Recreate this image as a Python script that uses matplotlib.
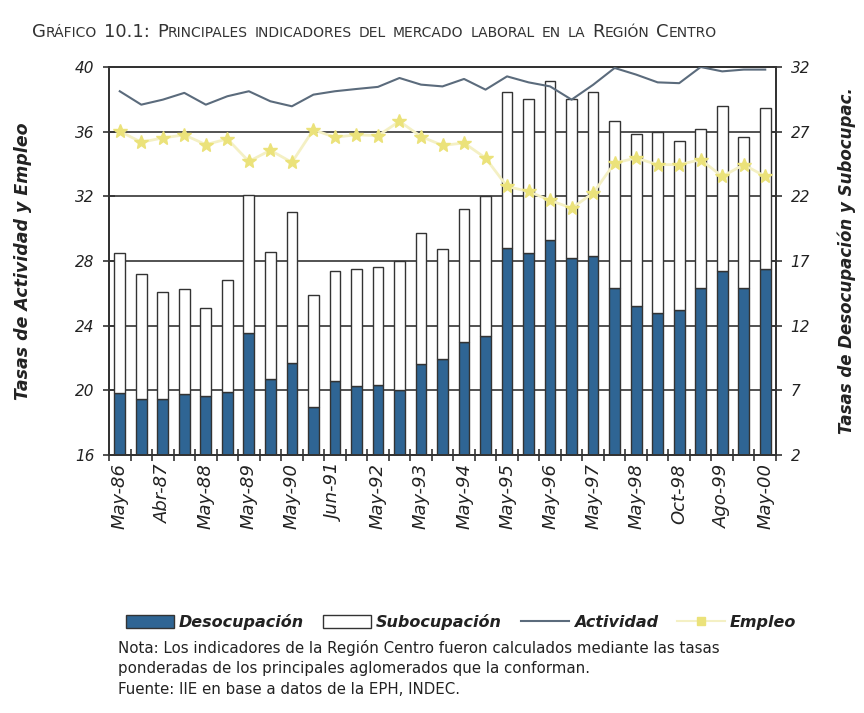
import matplotlib
matplotlib.use("Agg")
import matplotlib.pyplot as plt
import numpy as np
from matplotlib.patches import Patch
from matplotlib.lines import Line2D

# ---------------- data ----------------
periods = ["May-86", "", "Abr-87", "", "May-88", "", "May-89", "", "May-90", "",
           "Jun-91", "", "May-92", "", "May-93", "", "May-94", "", "May-95", "",
           "May-96", "", "May-97", "", "May-98", "", "Oct-98", "", "Ago-99", "",
           "May-00"]

desocupacion = [6.8, 6.3, 6.3, 6.7, 6.6, 6.9, 11.4, 7.9, 9.1, 5.7,
                7.7, 7.3, 7.4, 7.0, 9.0, 9.4, 10.7, 11.2, 18.0, 17.6,
                18.6, 17.2, 17.4, 14.9, 13.5, 13.0, 13.2, 14.9, 16.2, 14.9,
                16.4]

subocupacion = [10.8, 9.7, 8.3, 8.1, 6.8, 8.6, 10.7, 9.8, 11.7, 8.7,
                8.5, 9.1, 9.1, 10.0, 10.2, 8.5, 10.3, 10.8, 12.1, 11.9,
                12.3, 12.3, 12.7, 12.9, 13.3, 14.0, 13.1, 12.3, 12.8, 11.7,
                12.4]

actividad = [38.5, 37.67, 37.98, 38.4, 37.67, 38.19, 38.5, 37.88, 37.57, 38.29,
             38.5, 38.64, 38.77, 39.32, 38.91, 38.8, 39.26, 38.6, 39.42, 39.05,
             38.8, 37.98, 38.9, 39.94, 39.53, 39.05, 39.0, 40.0, 39.73, 39.84,
             39.84]

empleo = [36.02, 35.35, 35.61, 35.8, 35.2, 35.55, 34.16, 34.85, 34.1, 36.12,
          35.65, 35.81, 35.75, 36.64, 35.7, 35.15, 35.3, 34.37, 32.61, 32.3,
          31.75, 31.27, 32.2, 34.06, 34.37, 33.96, 33.96, 34.27, 33.23, 33.96,
          33.23]

left_ticks = [16, 20, 24, 28, 32, 36, 40]
right_ticks = [2, 7, 12, 17, 22, 27, 32]

# ---------------- style ----------------
BLUE = "#2f6594"
EDGE = "#333333"
LINEC = "#5b6b7c"
YEL = "#ebe27a"
YEL_L = "#f4f0c4"
TXT = "#222222"

plt.rcParams['font.family'] = ['DejaVu Sans']

fig = plt.figure(figsize=(8.64, 7.13), dpi=100)
fig.patch.set_facecolor("white")

L, R, T, B = 109, 776, 67, 455
W, H = 864, 713
ax = fig.add_axes([L / W, 1 - B / H, (R - L) / W, (B - T) / H])
ax2 = ax.twinx()

x = np.arange(len(desocupacion))

# bars on right axis
ax2.bar(x, desocupacion, width=0.5, color=BLUE, edgecolor=EDGE, linewidth=1.0, zorder=2)
ax2.bar(x, subocupacion, bottom=desocupacion, width=0.5, color="white",
        edgecolor=EDGE, linewidth=1.0, zorder=2)
ax2.set_ylim(2, 32)
ax2.set_yticks(right_ticks)
ax2.yaxis.grid(True, color="#444444", linewidth=1.3)
ax2.set_axisbelow(True)

# lines on left axis
ax.set_zorder(ax2.get_zorder() + 1)
ax.patch.set_visible(False)
ax.plot(x, empleo, color=YEL_L, linewidth=2.0, zorder=3)
ax.plot(x, empleo, linestyle="none", marker="*", markersize=10, color=YEL,
        markeredgecolor=YEL, zorder=4)
ax.plot(x, actividad, color=LINEC, linewidth=1.5, zorder=5)
ax.set_ylim(16, 40)
ax.set_yticks(left_ticks)
ax.set_xlim(-0.5, len(x) - 0.5)

# x ticks
ax.set_xticks(x[::2])
ax.set_xticklabels([p for p in periods[::2]], rotation=90, fontsize=13,
                   fontstyle="italic", color=TXT)
ax.set_xticks(np.arange(-0.5, len(x), 1.0), minor=True)
ax.tick_params(axis="x", which="major", length=0, pad=6)
ax.tick_params(axis="x", which="minor", length=9, width=1.2, direction="inout", color=EDGE)

ax.tick_params(axis="y", length=9, width=1.2, direction="inout", color=EDGE,
               labelsize=11, pad=6)
ax2.tick_params(axis="y", length=9, width=1.2, direction="inout", color=EDGE,
                labelsize=11, pad=6)
for lab in ax.get_yticklabels() + ax2.get_yticklabels():
    lab.set_fontstyle("italic")
    lab.set_color(TXT)

for a in (ax, ax2):
    for s in a.spines.values():
        s.set_color(EDGE)
        s.set_linewidth(1.3)

ax.set_ylabel("Tasas de Actividad y Empleo", fontsize=12.5, fontweight="bold",
              fontstyle="italic", color=TXT, labelpad=31)
ax2.set_ylabel("Tasas de Desocupación y Subocupac.", fontsize=12, fontweight="bold",
               fontstyle="italic", color=TXT, rotation=90, labelpad=20)

# ---------------- title in small caps ----------------
def smallcaps(fig, x0, y0, text, big=11.5, small=8.3, space=0.006, **kw):
    renderer = fig.canvas.get_renderer()
    width = fig.bbox.width
    xx = x0
    for word in text.split(" "):
        runs = []
        for ch in word:
            up = not ch.islower()
            if runs and runs[-1][0] == up:
                runs[-1][1] += ch
            else:
                runs.append([up, ch])
        for up, s in runs:
            t = fig.text(xx, y0, s.upper(), fontsize=big if up else small,
                         va="baseline", ha="left", **kw)
            xx += t.get_window_extent(renderer).width / width
        xx += space

smallcaps(fig, 32 / W, 1 - 37 / H,
          "Gráfico 10.1: Principales indicadores del mercado laboral en la Región Centro",
          big=13, small=10, space=0.008, color="#333333")

# ---------------- legend ----------------
handles = [
    Patch(facecolor=BLUE, edgecolor=EDGE, linewidth=1.0),
    Patch(facecolor="white", edgecolor=EDGE, linewidth=1.0),
    Line2D([], [], color=LINEC, linewidth=1.5),
    Line2D([], [], color=YEL_L, linewidth=1.5, marker="s", markersize=6,
           markerfacecolor=YEL, markeredgecolor=YEL),
]
labels = ["Desocupación", "Subocupación", "Actividad", "Empleo"]
leg = fig.legend(handles, labels, loc="center left", bbox_to_anchor=(112 / W, 1 - 622 / H),
                 ncol=4, frameon=False, handlelength=3.0, handleheight=0.8,
                 handletextpad=0.3, columnspacing=1.2,
                 prop={"weight": "bold", "style": "italic", "size": 11.5})
for t in leg.get_texts():
    t.set_color(TXT)

# ---------------- notes ----------------
notes = ["Nota: Los indicadores de la Región Centro fueron calculados mediante las tasas",
         "ponderadas de los principales aglomerados que la conforman.",
         "Fuente: IIE en base a datos de la EPH, INDEC."]
for i, line in enumerate(notes):
    fig.text(118 / W, 1 - (648 + i * 21) / H, line, fontsize=10.8, color=TXT,
             va="center", ha="left")

fig.savefig("out.png", dpi=100, facecolor="white")
